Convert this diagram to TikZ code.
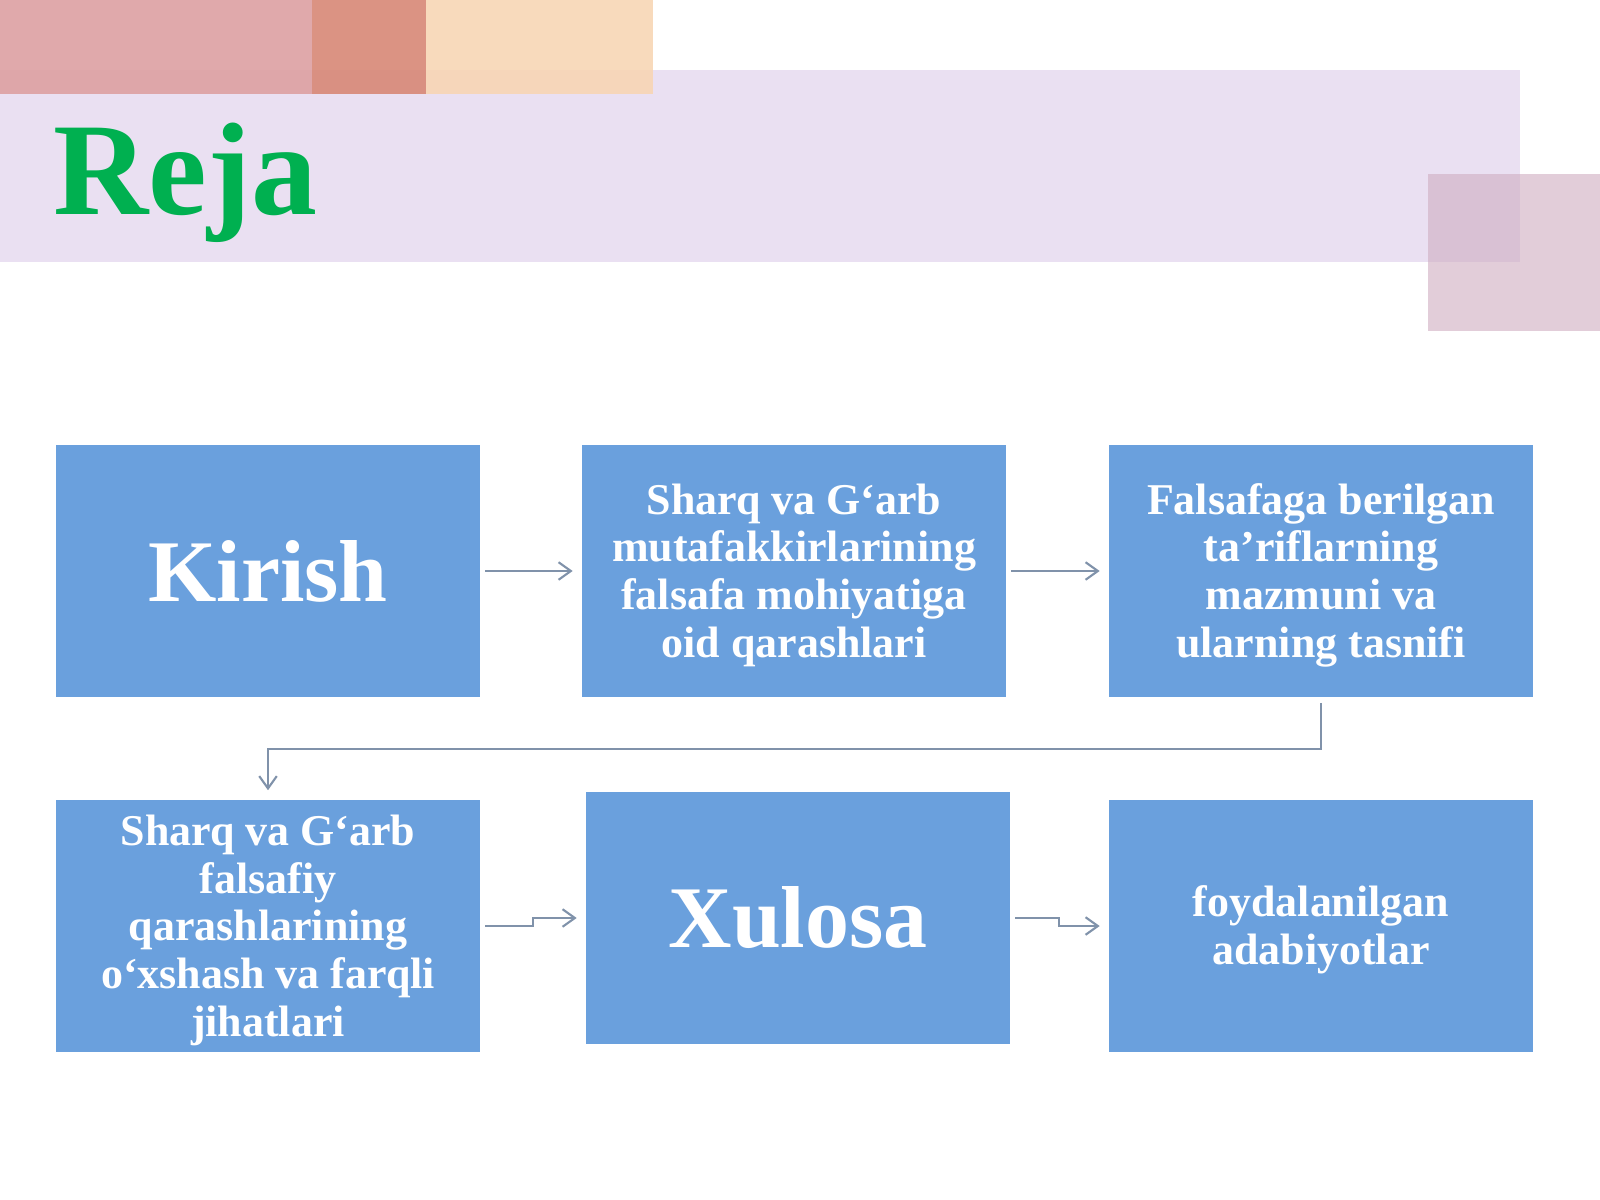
\documentclass[tikz,border=0pt]{standalone}
\usepackage{fontspec}
\setmainfont{Liberation Serif}
\usetikzlibrary{arrows.meta}

\definecolor{rejagreen}{RGB}{0,176,80}
\definecolor{boxblue}{RGB}{106,160,221}
\definecolor{connline}{RGB}{128,146,170}
\definecolor{bandlav}{RGB}{234,224,242}
\definecolor{blockrose}{RGB}{221,160,162}
\definecolor{blocksalmon}{RGB}{216,136,118}
\definecolor{blockpeach}{RGB}{248,214,181}
\definecolor{squaremauve}{RGB}{207,173,193}

% centred lines, set a little below the middle of the box
\newcommand{\boxlines}[1]{\raisebox{0pt}[\dimexpr\height+3pt\relax]{\begin{tabular}{@{}c@{}}#1\end{tabular}}}

\tikzset{
  box/.style={fill=boxblue, text=white, inner sep=0pt,
    minimum width=4.23cm, minimum height=2.52cm,
    font=\bfseries\fontsize{12.5}{13.6}\selectfont},
  bigbox/.style={box, font=\bfseries\fontsize{25}{30}\selectfont},
  conn/.style={draw=connline, line width=0.6pt,
    -{Straight Barb[length=3.5pt,width=5pt]},
    shorten <=0.05cm, shorten >=0.09cm},
}

\begin{document}
\begin{tikzpicture}[x=0.01cm, y=-0.01cm]
    \fill[white] (0,0) rectangle (1600,1200);
    \useasboundingbox (0,0) rectangle (1600,1200);
    % header band and coloured blocks
    \fill[bandlav] (0,70) rectangle (1520,262);
    \fill[blockrose, opacity=0.9] (0,0) rectangle (312,94);
    \fill[blocksalmon, opacity=0.9] (312,0) rectangle (426,94);
    \fill[blockpeach, opacity=0.9] (426,0) rectangle (653,94);
    \fill[squaremauve, opacity=0.6] (1428,174) rectangle (1600,331);
    \node (title) at (53,214) [anchor=base west, inner sep=0pt, text=rejagreen,
      font=\bfseries\fontsize{37.5}{44}\selectfont] {Reja};

    \node (kirish) at (268,571) [bigbox] {Kirish};
    \node (sharq) at (794,571) [box] {\boxlines{Sharq va G‘arb\\mutafakkirlarining\\falsafa mohiyatiga\\oid qarashlari}};
    \node (tasnif) at (1321,571) [box] {\boxlines{Falsafaga berilgan\\ta’riflarning\\mazmuni va\\ularning tasnifi}};
    \node (oxshash) at (268,926) [box] {\boxlines{Sharq va G‘arb\\falsafiy\\qarashlarining\\o‘xshash va farqli\\jihatlari}};
    \node (xulosa) at (798,918) [bigbox] {Xulosa};
    \node (adabiyot) at (1321,926) [box] {\boxlines{foydalanilgan\\adabiyotlar}};

    \draw[conn] (kirish) -- (sharq);
    \draw[conn] (sharq) -- (tasnif);
    \draw[conn] (tasnif.south) -- ++(0,51) -| (oxshash.north);
    \draw[conn] (oxshash.east) -- ++(53,0) |- (xulosa.west);
    \draw[conn] (xulosa.east) -- ++(49,0) |- (adabiyot.west);
\end{tikzpicture}
\end{document}
